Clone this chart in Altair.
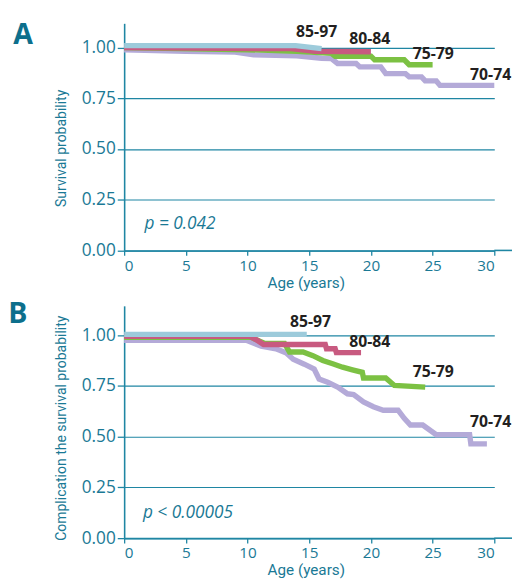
import altair as alt
import pandas as pd

# ---------------- data ----------------
groups = ["70-74", "75-79", "80-84", "85-97"]          # draw order: bottom -> top
line_colors = {"70-74": "#b4aad8", "75-79": "#7cc143", "80-84": "#c85a80", "85-97": "#9dcbdb"}

# Panel A: survival probability
a_age = {
    "85-97": [0, 13.9, 16.0],
    "80-84": [0, 13.5, 15.5, 20.0],
    "75-79": [0, 10, 14, 16.8, 17.1, 20.0, 20.3, 22.7, 23.1, 25.0],
    "70-74": [0, 5, 9, 10.5, 14, 16, 16.8, 17.3, 18.8, 19.1, 20.8, 21.2, 22.8, 23.1,
              24.1, 24.4, 25.3, 25.6, 30.0],
}
a_prob = {
    "85-97": [1.01, 1.01, 0.995],
    "80-84": [1.0, 0.995, 0.982, 0.98],
    "75-79": [1.0, 0.99, 0.982, 0.972, 0.958, 0.958, 0.94, 0.94, 0.916, 0.916],
    "70-74": [0.99, 0.982, 0.978, 0.965, 0.96, 0.948, 0.946, 0.922, 0.922, 0.905, 0.905,
              0.872, 0.872, 0.856, 0.856, 0.836, 0.836, 0.814, 0.814],
}

# Panel B: complication-free survival probability
b_age = {
    "85-97": [0, 14.8],
    "80-84": [0, 10.2, 10.8, 11.3, 16.3, 16.4, 17.1, 17.2, 19.2],
    "75-79": [0, 10.3, 11.4, 13.0, 13.4, 14.5, 15.3, 16.1, 16.9, 17.7, 18.5, 19.3, 19.4,
              21.2, 21.9, 24.4],
    "70-74": [0, 9.9, 11.1, 12.3, 13.1, 13.7, 14.6, 15.4, 15.8, 16.5, 17.3, 18.1, 18.6,
              19.4, 20.2, 21.0, 22.2, 22.7, 23.2, 24.2, 25.3, 28.0, 28.1, 29.4],
}
b_prob = {
    "85-97": [1.005, 1.005],
    "80-84": [0.995, 0.995, 0.975, 0.955, 0.955, 0.934, 0.934, 0.915, 0.915],
    "75-79": [0.99, 0.99, 0.96, 0.96, 0.918, 0.918, 0.9, 0.876, 0.86, 0.843, 0.83, 0.818,
              0.79, 0.79, 0.753, 0.745],
    "70-74": [0.976, 0.976, 0.947, 0.934, 0.915, 0.882, 0.858, 0.834, 0.785, 0.769, 0.745,
              0.712, 0.708, 0.672, 0.648, 0.631, 0.631, 0.591, 0.558, 0.558, 0.51, 0.51,
              0.465, 0.465],
}

label_names = ["85-97", "80-84", "75-79", "70-74"]
a_label_x = [15.6, 19.9, 25.05, 29.7]
a_label_y = [1.076, 1.042, 0.967, 0.866]
b_label_x = [15.1, 19.9, 25.05, 29.7]
b_label_y = [1.066, 0.969, 0.82, 0.572]

y_ticks = [0, 0.25, 0.5, 0.75, 1.0]
x_ticks = [0, 5, 10, 15, 20, 25, 30]

TEAL = "#1f86a3"
TEAL_TXT = "#1a7995"
LETTER = "#0d6f8c"
FONT = "Open Sans"
TFONT = "Roboto"

W = 376


def frame_rule(x1, x2, y):
    # invisible (white) 1px rule used only to pin the layout bounds
    return alt.Chart(pd.DataFrame({"a": [0]})).mark_rule(
        color="#ffffff", strokeWidth=1).encode(
        x=alt.value(x1), x2=alt.value(x2), y=alt.value(y))


def panel(ages, probs, lx, ly, ptext, px, py, letter, letter_x, letter_y,
          ytitle, ytitle_y, ymax, H, xtitle_dy, top_pin, bottom_pin):
    x_sc = alt.Scale(domain=[0, 30], nice=False)
    y_sc = alt.Scale(domain=[0, ymax], nice=False, zero=True)
    xax = alt.Axis(values=x_ticks, grid=False, title=None, tickSize=5, tickColor=TEAL,
                   tickWidth=1.3, domainColor=TEAL, domainWidth=1.6, labelFont=FONT,
                   labelFontSize=15.5, labelColor=TEAL_TXT, labelPadding=3)
    yax = alt.Axis(values=y_ticks, format=".2f", grid=True, gridColor=TEAL, gridWidth=1.2,
                   title=None, tickSize=7, tickColor=TEAL, tickWidth=1.3, domainColor=TEAL,
                   domainWidth=1.6, labelFont=FONT, labelFontSize=17.5, labelColor=TEAL_TXT,
                   labelPadding=2)
    X = lambda f: alt.X(f, scale=x_sc, axis=xax)
    Y = lambda f: alt.Y(f, scale=y_sc, axis=yax)
    layers = []
    for g in groups:
        df = pd.DataFrame({"age": ages[g], "prob": probs[g], "i": range(len(ages[g]))})
        layers.append(alt.Chart(df).mark_line(color=line_colors[g], strokeWidth=5.5,
                                              strokeCap="butt", strokeJoin="miter",
                                              clip=False).encode(
            x=X("age:Q"), y=Y("prob:Q"), order="i:Q"))

    lab = pd.DataFrame({"t": label_names, "x": lx, "y": ly})
    layers.append(alt.Chart(lab).mark_text(fontSize=16, fontWeight="bold", font=FONT,
                                           color="#231f20", align="center",
                                           baseline="middle").encode(
        x=X("x:Q"), y=Y("y:Q"), text="t:N"))

    pdf = pd.DataFrame({"t": [ptext], "x": [px], "y": [py]})
    layers.append(alt.Chart(pdf).mark_text(fontSize=17.5, fontStyle="italic", font=FONT,
                                           color=TEAL_TXT, align="left",
                                           baseline="middle").encode(
        x=X("x:Q"), y=Y("y:Q"), text="t:N"))

    ldf = pd.DataFrame({"t": [letter]})
    layers.append(alt.Chart(ldf).mark_text(fontSize=29, fontWeight="bold", font=FONT,
                                           color=LETTER, align="left",
                                           baseline="alphabetic").encode(
        x=alt.value(letter_x), y=alt.value(letter_y), text="t:N"))

    ytdf = pd.DataFrame({"t": [ytitle]})
    layers.append(alt.Chart(ytdf).mark_text(fontSize=14.2, font=TFONT, color=TEAL_TXT,
                                            angle=270, align="center",
                                            baseline="middle").encode(
        x=alt.value(-63), y=alt.value(ytitle_y), text="t:N"))

    xtdf = pd.DataFrame({"t": ["Age (years)"]})
    layers.append(alt.Chart(xtdf).mark_text(fontSize=15.5, font=TFONT,
                                            color=TEAL_TXT, align="center",
                                            baseline="alphabetic").encode(
        x=alt.value(185), y=alt.value(H + xtitle_dy), text="t:N"))

    # x-axis line continues a little past 30
    layers.append(alt.Chart(pd.DataFrame({"a": [0]})).mark_rule(
        color=TEAL, strokeWidth=1.6).encode(
        x=alt.value(W), x2=alt.value(W + 18), y=alt.value(H)))

    # layout pins (white, hidden)
    layers.append(frame_rule(-117.5, -116.5, top_pin))
    layers.append(frame_rule(393.5, 394.5, top_pin))
    layers.append(frame_rule(-117.5, -116.5, H + bottom_pin))

    return alt.layer(*layers).properties(width=W, height=H)


HA = 230.7
HB = 236.0
pa = panel(a_age, a_prob, a_label_x, a_label_y, "p = 0.042", 1.65, 0.13,
           "A", -112.7, 21, "Survival probability", 127, 1.12, HA, 38.5,
           -10.5, 42.5)
pb = panel(b_age, b_prob, b_label_x, b_label_y, "p < 0.00005", 1.52, 0.126,
           "B", -117.7, 17.6, "Complication the survival probability", 124.3, 1.1456, HB,
           37.3, -12.5, 41.5)

chart = alt.vconcat(pa, pb, spacing=0).configure(
    padding={"left": 0, "top": 0, "right": 0, "bottom": 0}
).configure_view(stroke=None).configure_concat(spacing=0)

chart.save("out.html", embed_options={"renderer": "svg", "actions": False})
